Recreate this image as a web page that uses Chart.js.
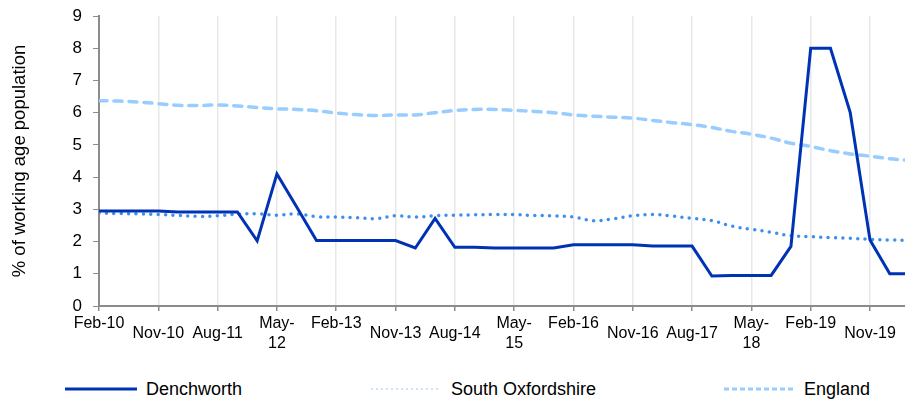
<!DOCTYPE html>
<html>
<head>
<meta charset="utf-8">
<script src="https://cdn.jsdelivr.net/npm/chart.js@4"></script>
<style>
  body { margin: 0; background: #fff; }
  #wrap { position: relative; width: 905px; height: 401px; font-family: "Liberation Sans", Arial, sans-serif; }
  #chart { position: absolute; left: 0; top: 0; }
  .legend-item { position: absolute; top: 378px; height: 22px; display: flex; align-items: center; font-size: 18px; color: #000; white-space: nowrap; }
  .legend-item svg { margin-right: 9px; }
</style>
</head>
<body>
<div id="wrap">
  <canvas id="chart" width="905" height="362"></canvas>
  <div class="legend-item" style="left:65px">
    <svg width="72" height="6"><line x1="0" y1="3" x2="72" y2="3" stroke="#0033b4" stroke-width="3"/></svg>Denchworth
  </div>
  <div class="legend-item" style="left:370px">
    <svg width="72" height="6"><line x1="1" y1="3" x2="71" y2="3" stroke="#cfe2f7" stroke-width="2" stroke-dasharray="2 3"/></svg>South Oxfordshire
  </div>
  <div class="legend-item" style="left:723px">
    <svg width="72" height="6"><line x1="1" y1="3" x2="71" y2="3" stroke="#99ccff" stroke-width="3" stroke-dasharray="5 3"/></svg>England
  </div>
</div>
<script>
// quarterly periods, Feb-10 .. May-20
const quarters = [
  'Feb-10','May-10','Aug-10','Nov-10',
  'Feb-11','May-11','Aug-11','Nov-11',
  'Feb-12','May-12','Aug-12','Nov-12',
  'Feb-13','May-13','Aug-13','Nov-13',
  'Feb-14','May-14','Aug-14','Nov-14',
  'Feb-15','May-15','Aug-15','Nov-15',
  'Feb-16','May-16','Aug-16','Nov-16',
  'Feb-17','May-17','Aug-17','Nov-17',
  'Feb-18','May-18','Aug-18','Nov-18',
  'Feb-19','May-19','Aug-19','Nov-19',
  'Feb-20','May-20'
];

const denchworth = [
  2.95, 2.95, 2.95, 2.95, 2.92, 2.92, 2.92, 2.92,
  2.02, 4.1, 3.07, 2.03, 2.03, 2.03, 2.03, 2.03,
  1.8, 2.72, 1.82, 1.82, 1.8, 1.8, 1.8, 1.8,
  1.9, 1.9, 1.9, 1.9, 1.86, 1.86, 1.86, 0.93,
  0.95, 0.95, 0.95, 1.85, 8.0, 8.0, 6.0, 2.05,
  1.0, 1.0
];

const southOxfordshire = [
  2.88, 2.87, 2.86, 2.84, 2.81, 2.78, 2.8, 2.85,
  2.86, 2.82, 2.86, 2.77, 2.76, 2.74, 2.71, 2.8,
  2.76, 2.8, 2.82, 2.83, 2.84, 2.84, 2.81, 2.8,
  2.76, 2.65, 2.7, 2.8, 2.84, 2.79, 2.72, 2.65,
  2.48, 2.38, 2.29, 2.18, 2.15, 2.12, 2.1, 2.07,
  2.05, 2.04
];

const england = [
  6.37, 6.36, 6.33, 6.28, 6.23, 6.22, 6.24, 6.21,
  6.16, 6.12, 6.1, 6.06, 5.99, 5.94, 5.91, 5.93,
  5.93, 6.0, 6.07, 6.1, 6.1, 6.07, 6.04, 6.0,
  5.93, 5.89, 5.86, 5.83, 5.76, 5.69, 5.63, 5.54,
  5.42, 5.33, 5.21, 5.05, 4.95, 4.82, 4.72, 4.65,
  4.57, 4.52
];

const yTicks = [0, 1, 2, 3, 4, 5, 6, 7, 8, 9];

const toPoints = arr => arr.map((v, i) => ({ x: i, y: v }));
const axisGrey = '#8c8c8c';
const fontFamily = '"Liberation Sans", Arial, sans-serif';
const tickFont = { family: fontFamily, size: 16, lineHeight: '20px' };

Chart.defaults.color = '#000';

new Chart(document.getElementById('chart'), {
  type: 'line',
  data: {
    datasets: [
      {
        label: 'Denchworth',
        data: toPoints(denchworth),
        borderColor: '#0033b4',
        borderWidth: 3,
        pointRadius: 0,
        tension: 0
      },
      {
        label: 'South Oxfordshire',
        data: toPoints(southOxfordshire),
        borderColor: '#3d8fee',
        borderWidth: 3.5,
        borderDash: [0, 7.4],
        borderCapStyle: 'round',
        pointRadius: 0,
        tension: 0.35
      },
      {
        label: 'England',
        data: toPoints(england),
        borderColor: '#99ccff',
        borderWidth: 3.5,
        borderDash: [8, 7],
        borderCapStyle: 'round',
        pointRadius: 0,
        tension: 0.35
      }
    ]
  },
  options: {
    responsive: false,
    animation: false,
    layout: { padding: 0 },
    plugins: {
      legend: { display: false },
      tooltip: { enabled: false }
    },
    scales: {
      x: {
        type: 'linear',
        min: 0,
        max: 40.77,
        afterFit: s => { s.height = 56; },
        border: { color: axisGrey, width: 2 },
        grid: { color: '#e8e8e8', lineWidth: 1.5, tickColor: axisGrey, tickLength: 5 },
        ticks: {
          stepSize: 3,
          includeBounds: false,
          autoSkip: false,
          maxRotation: 0,
          padding: 3,
          font: ctx => {
            const v = ctx.tick ? ctx.tick.value : 0;
            const k = Math.round(v / 3) % 4;
            // Nov / Aug labels sit half a line lower
            return (k === 1 || k === 2) ? { ...tickFont, lineHeight: '40px' } : tickFont;
          },
          callback: v => {
            if (v % 3 !== 0) return '';
            const q = quarters[v];
            if (!q) return '';
            return q.startsWith('May') ? [q.slice(0, 4), q.slice(4)] : q;
          }
        }
      },
      y: {
        min: yTicks[0],
        max: yTicks[yTicks.length - 1],
        afterFit: s => { s.width = 99; s.paddingTop = 16; s.paddingBottom = 0; },
        border: { color: axisGrey, width: 2 },
        grid: { drawOnChartArea: false, tickColor: axisGrey, tickLength: 6 },
        ticks: {
          stepSize: 1,
          padding: 11,
          font: { family: fontFamily, size: 17 }
        },
        title: {
          display: true,
          text: '% of working age population',
          padding: { top: 9, bottom: 0 },
          font: { family: fontFamily, size: 18.5 }
        }
      }
    }
  }
});
</script>
</body>
</html>
